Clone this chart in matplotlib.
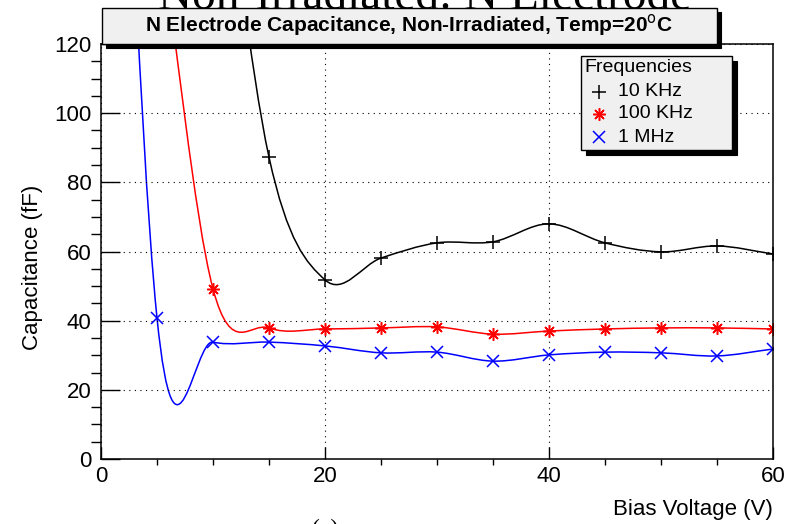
import matplotlib
matplotlib.use("Agg")
import matplotlib.pyplot as plt
import numpy as np
from matplotlib.path import Path
from matplotlib.patches import PathPatch, Rectangle
from matplotlib.lines import Line2D
from matplotlib.ticker import MultipleLocator

plt.rcParams['font.family'] = ['Liberation Sans', 'DejaVu Sans']

W, H = 785, 524

# measured capacitance (fF) vs bias voltage (V); first points lie above the plotted range
bias_10k = [10, 15, 20, 25, 30, 35, 40, 45, 50, 55, 60]
cap_10k = [200, 87.3, 51.8, 58.1, 62.5, 62.8, 68.0, 62.5, 59.9, 61.6, 59.3]
bias_100k = [5, 10, 15, 20, 25, 30, 35, 40, 45, 50, 55, 60]
cap_100k = [160, 49.2, 37.9, 37.6, 37.9, 38.2, 36.1, 37.0, 37.6, 37.9, 37.9, 37.6]
bias_1m = [0, 5, 10, 15, 20, 25, 30, 35, 40, 45, 50, 55, 60]
cap_1m = [350, 40.8, 33.8, 33.8, 32.7, 30.7, 30.9, 28.3, 30.1, 30.9, 30.7, 29.8, 31.8]

legend_title = "Frequencies"
legend_labels = ["10 KHz", "100 KHz", "1 MHz"]
colors = ["black", "red", "blue"]
markers = ["+", (8, 2, 0), "x"]
msizes = [10, 9, 8]


def fx(px):
    return px / W


def fy(py):
    return 1 - py / H


def smooth_path(x, y):
    # Catmull-Rom style cubic through the points, as bezier segments
    x = np.asarray(x, float)
    y = np.asarray(y, float)
    n = len(x)
    m = np.zeros(n)
    m[0] = (y[1] - y[0]) / (x[1] - x[0])
    m[-1] = (y[-1] - y[-2]) / (x[-1] - x[-2])
    m[1:-1] = (y[2:] - y[:-2]) / (x[2:] - x[:-2])
    verts = [(x[0], y[0])]
    codes = [Path.MOVETO]
    for i in range(n - 1):
        h = x[i + 1] - x[i]
        verts += [(x[i] + h / 3, y[i] + m[i] * h / 3),
                  (x[i + 1] - h / 3, y[i + 1] - m[i + 1] * h / 3),
                  (x[i + 1], y[i + 1])]
        codes += [Path.CURVE4] * 3
    return Path(verts, codes)


def shadow_box(x0, y0, x1, y1, d, z=1):
    fig.add_artist(Rectangle((fx(x0 + d), fy(y1 + d)), (x1 - x0) / W, (y1 - y0) / H,
                             transform=fig.transFigure, fc='black', ec='black', lw=0.8, zorder=z))
    fig.add_artist(Rectangle((fx(x0), fy(y1)), (x1 - x0) / W, (y1 - y0) / H,
                             transform=fig.transFigure, fc='#f0f0f0', ec='black', lw=1.0, zorder=z))


fig = plt.figure(figsize=(W / 100, H / 100), dpi=100)
ax = fig.add_axes([fx(101), fy(459), 672 / W, 415 / H])

series = [(bias_10k, cap_10k), (bias_100k, cap_100k), (bias_1m, cap_1m)]
for (xs, ys), c, mk, ms in zip(series, colors, markers, msizes):
    ax.add_patch(PathPatch(smooth_path(xs, ys), fill=False, edgecolor=c, lw=1.1))
    ax.plot(xs, ys, linestyle='none', marker=mk, color=c, markersize=ms, mew=1.1)

ax.set_xlim(0, 60)
ax.set_ylim(0, 120)
ax.xaxis.set_major_locator(MultipleLocator(20))
ax.xaxis.set_minor_locator(MultipleLocator(5))
ax.yaxis.set_major_locator(MultipleLocator(20))
ax.yaxis.set_minor_locator(MultipleLocator(5))
ax.tick_params(axis='both', direction='in', labelsize=16, width=1, colors='black')
ax.tick_params(axis='y', which='major', length=14, pad=7)
ax.tick_params(axis='y', which='minor', length=7.5, width=1)
ax.tick_params(axis='x', which='major', length=9, pad=5)
ax.tick_params(axis='x', which='minor', length=4.5, width=1)
ax.grid(True, which='major', color='black', linestyle=(0, (1, 4)), lw=0.8)
for s in ax.spines.values():
    s.set_linewidth(1.1)

fig.text(fx(773), fy(510), "Bias Voltage (V)", ha='right', va='center', fontsize=16)
fig.text(fx(33), fy(267), "Capacitance (fF)", ha='center', va='center', rotation=90, fontsize=16)

# surrounding document text, cut by the crop and partly hidden by the title box
fig.text(fx(425), fy(9), "Non-Irradiated: N Electrode", ha='center', va='baseline',
         fontsize=34, family=['Liberation Serif', 'DejaVu Serif'], zorder=0.5)
fig.text(fx(325), fy(519), "(a)", ha='center', va='top', fontsize=17,
         family=['Liberation Serif', 'DejaVu Serif'])

# title box
shadow_box(102, 8, 717, 44, 4, z=2)
fig.text(fx(409), fy(25), r"N Electrode Capacitance, Non-Irradiated, Temp=20$^{\mathrm{o}}$C",
         ha='center', va='center', fontsize=15, fontweight='bold', zorder=3)

# legend box
shadow_box(581, 56, 732, 150, 5, z=2)
fig.text(fx(584), fy(68), legend_title, ha='left', va='center', fontsize=14, zorder=3)
for i, (lab, c, mk, ms) in enumerate(zip(legend_labels, colors, markers, msizes)):
    yy = [92, 114, 137][i]
    fig.add_artist(Line2D([fx(599)], [fy(yy)], transform=fig.transFigure, marker=mk,
                          color=c, markersize=ms, mew=1.1, linestyle='none', zorder=3))
    fig.text(fx(618), fy(yy), lab, ha='left', va='center', fontsize=14, zorder=3)

fig.savefig("out.png", dpi=100)
